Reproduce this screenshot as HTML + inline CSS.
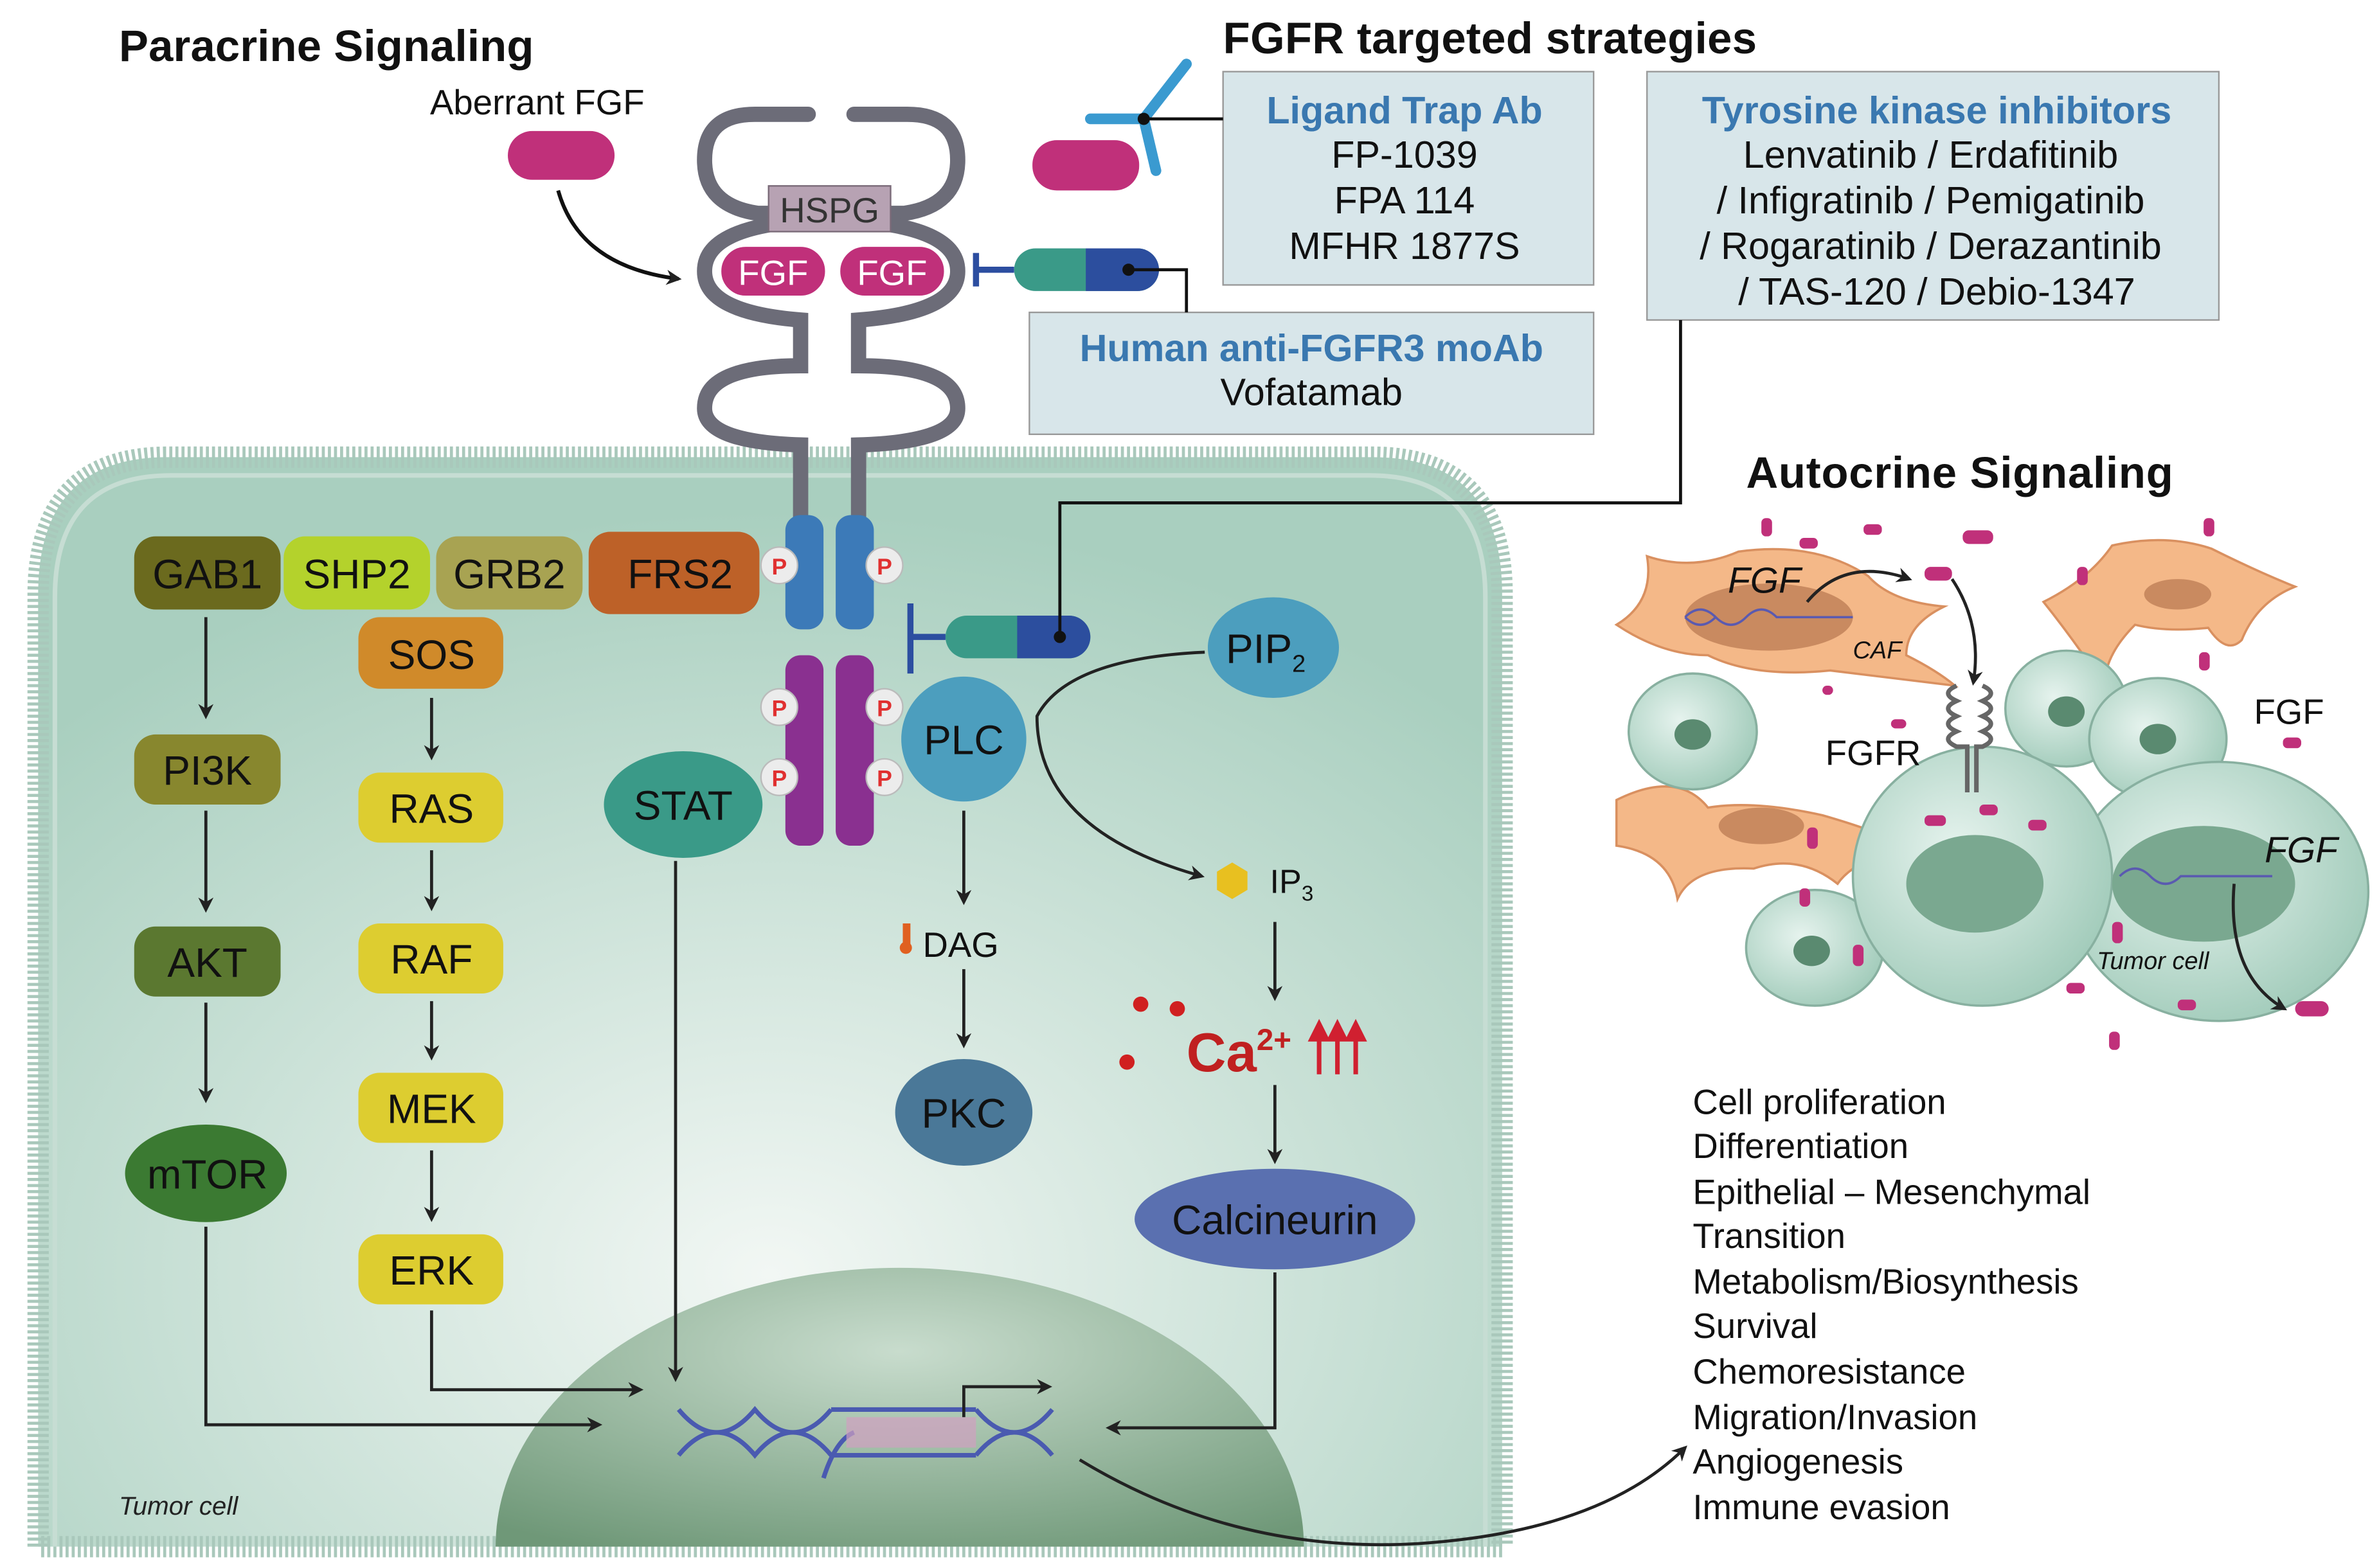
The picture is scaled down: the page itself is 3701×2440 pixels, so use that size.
<!DOCTYPE html>
<html><head><meta charset="utf-8"><style>
html,body{margin:0;padding:0;background:#fff;width:3701px;height:2440px;overflow:hidden}
svg{display:block}
text{font-family:"Liberation Sans",sans-serif}
</style></head><body>
<svg width="3701" height="2440" viewBox="0 0 1560 1029" preserveAspectRatio="none" xmlns="http://www.w3.org/2000/svg">
<defs>
<radialGradient id="cellg" cx="0.5" cy="0.75" r="0.7"><stop offset="0" stop-color="#f2f7f4"/><stop offset="1" stop-color="#a9cfbf"/></radialGradient>
<radialGradient id="nucg" cx="0.5" cy="0.3" r="0.8"><stop offset="0" stop-color="#c8dccd"/><stop offset="1" stop-color="#6f9878"/></radialGradient>
<radialGradient id="tc" cx="0.4" cy="0.4" r="0.7"><stop offset="0" stop-color="#e6f3ee"/><stop offset="1" stop-color="#9cc8b6"/></radialGradient>
<marker id="ah" markerWidth="10" markerHeight="10" refX="8" refY="5" orient="auto" markerUnits="userSpaceOnUse"><path d="M0,0 L10,5 L0,10 L3,5z" fill="#222"/></marker>
</defs>
<rect width="1560" height="1029" fill="#fff"/>
<path d="M25,1015 L25,390 Q25,300 110,300 L900,300 Q985,300 985,390 L985,1015z" fill="url(#cellg)" stroke="#a9c8bb" stroke-width="14" stroke-dasharray="2 2"/>
<path d="M36,1015 L36,392 Q36,312 112,312 L898,312 Q974,312 974,392 L974,1015" fill="none" stroke="#c6ddd3" stroke-width="3"/>
<path d="M325,1015 A265,183 0 0 1 855,1015 Z" fill="url(#nucg)"/>
<text x="78" y="994" font-size="17" font-style="italic" fill="#222">Tumor cell</text>

<g fill="none" stroke="#6c6c78" stroke-width="10" stroke-linecap="round">
<path d="M530,75 L495,75 Q462,75 462,105 Q462,135 497,140 M530,140 L497,140"/>
<path d="M560,75 L595,75 Q628,75 628,105 Q628,135 593,140 M560,140 L593,140"/>
<path d="M525,145 Q462,150 462,178 Q462,205 525,210 L525,240 Q462,240 462,268 Q462,290 525,292 L525,340"/>
<path d="M563,145 Q628,150 628,178 Q628,205 563,210 L563,240 Q628,240 628,268 Q628,290 563,292 L563,340"/>
</g>
<rect x="504" y="122" width="80" height="30" fill="#b7a2b3" stroke="#7a6a78"/>
<text x="544" y="146" font-size="23" text-anchor="middle" fill="#333">HSPG</text>
<rect x="472" y="161" width="70" height="34" rx="17" fill="#c0307a" stroke="#fff" stroke-width="2"/>
<rect x="550" y="161" width="70" height="34" rx="17" fill="#c0307a" stroke="#fff" stroke-width="2"/>
<text x="507" y="187" font-size="23" text-anchor="middle" fill="#fff">FGF</text>
<text x="585" y="187" font-size="23" text-anchor="middle" fill="#fff">FGF</text>
<rect x="515" y="338" width="25" height="75" rx="10" fill="#3c7ab8"/>
<rect x="548" y="338" width="25" height="75" rx="10" fill="#3c7ab8"/>
<rect x="515" y="430" width="25" height="125" rx="10" fill="#8a3090"/>
<rect x="548" y="430" width="25" height="125" rx="10" fill="#8a3090"/>
<g font-size="15" font-weight="bold" fill="#e03030" text-anchor="middle">
<circle cx="511" cy="371" r="12" fill="#ececec" stroke="#bbb"/><text x="511" y="377">P</text>
<circle cx="580" cy="371" r="12" fill="#ececec" stroke="#bbb"/><text x="580" y="377">P</text>
<circle cx="511" cy="464" r="12" fill="#ececec" stroke="#bbb"/><text x="511" y="470">P</text>
<circle cx="580" cy="464" r="12" fill="#ececec" stroke="#bbb"/><text x="580" y="470">P</text>
<circle cx="511" cy="510" r="12" fill="#ececec" stroke="#bbb"/><text x="511" y="516">P</text>
<circle cx="580" cy="510" r="12" fill="#ececec" stroke="#bbb"/><text x="580" y="516">P</text>
</g>

<text x="78" y="40" font-size="29" font-weight="bold" fill="#111" textLength="272">Paracrine Signaling</text>
<text x="802" y="35" font-size="29" font-weight="bold" fill="#111" textLength="350">FGFR targeted strategies</text>
<text x="1145" y="320" font-size="29" font-weight="bold" fill="#111" textLength="280">Autocrine Signaling</text>
<text x="282" y="75" font-size="23" fill="#111">Aberrant FGF</text>
<rect x="333" y="86" width="70" height="32" rx="16" fill="#c0307a"/>
<path d="M366,125 Q380,175 445,183" fill="none" stroke="#111" stroke-width="2.5" marker-end="url(#ah)"/>

<rect x="802" y="47" width="243" height="140" fill="#d8e6ea" stroke="#999"/>
<text x="921" y="81" font-size="25" font-weight="bold" fill="#3a78b0" text-anchor="middle">Ligand Trap Ab</text>
<g font-size="25" fill="#111" text-anchor="middle"><text x="921" y="110">FP-1039</text><text x="921" y="140">FPA 114</text><text x="921" y="170">MFHR 1877S</text></g>
<rect x="1080" y="47" width="375" height="163" fill="#d8e6ea" stroke="#999"/>
<text x="1270" y="81" font-size="25" font-weight="bold" fill="#3a78b0" text-anchor="middle">Tyrosine kinase inhibitors</text>
<g font-size="25" fill="#111" text-anchor="middle"><text x="1266" y="110">Lenvatinib / Erdafitinib</text><text x="1266" y="140">/ Infigratinib / Pemigatinib</text><text x="1266" y="170">/ Rogaratinib / Derazantinib</text><text x="1270" y="200">/ TAS-120 / Debio-1347</text></g>
<rect x="675" y="205" width="370" height="80" fill="#d8e6ea" stroke="#999"/>
<text x="860" y="237" font-size="25" font-weight="bold" fill="#3a78b0" text-anchor="middle">Human anti-FGFR3 moAb</text>
<text x="860" y="266" font-size="25" fill="#111" text-anchor="middle">Vofatamab</text>

<rect x="677" y="92" width="70" height="33" rx="16" fill="#c0307a"/>
<g stroke="#3a9ad0" stroke-width="7" stroke-linecap="round"><path d="M750,78 L778,42 M750,78 L715,78 M750,78 L758,112"/></g>
<circle cx="750" cy="78" r="4" fill="#111"/>
<path d="M750,78 L802,78" stroke="#111" stroke-width="2"/>
<rect x="665" y="163" width="95" height="28" rx="14" fill="#3a9a88"/>
<path d="M712,163 L746,163 A14,14 0 0 1 746,191 L712,191z" fill="#2c4e9e"/>
<circle cx="740" cy="177" r="4" fill="#111"/>
<path d="M740,177 L778,177 L778,205" fill="none" stroke="#111" stroke-width="2"/>
<path d="M665,177 L640,177 M640,166 L640,188" stroke="#2c4ea0" stroke-width="4"/>
<rect x="620" y="404" width="95" height="28" rx="14" fill="#3a9a88"/>
<path d="M667,404 L701,404 A14,14 0 0 1 701,432 L667,432z" fill="#2c4e9e"/>
<circle cx="695" cy="418" r="4" fill="#111"/>
<path d="M695,418 L695,330 L1102,330 L1102,210" fill="none" stroke="#111" stroke-width="2"/>
<path d="M620,418 L597,418 M597,396 L597,442" stroke="#2c4ea0" stroke-width="4"/>

<g font-size="27" fill="#111" text-anchor="middle">
<rect x="88" y="352" width="96" height="48" rx="14" fill="#6b6a1e"/><text x="136" y="386">GAB1</text>
<rect x="186" y="352" width="96" height="48" rx="14" fill="#b4d22c"/><text x="234" y="386">SHP2</text>
<rect x="286" y="352" width="96" height="48" rx="14" fill="#a8a352"/><text x="334" y="386">GRB2</text>
<rect x="386" y="349" width="112" height="54" rx="14" fill="#bd6128"/><text x="446" y="386">FRS2</text>
<rect x="235" y="405" width="95" height="47" rx="14" fill="#d08a2a"/><text x="283" y="439">SOS</text>
<rect x="88" y="482" width="96" height="46" rx="14" fill="#88872e"/><text x="136" y="515">PI3K</text>
<rect x="235" y="507" width="95" height="46" rx="14" fill="#ddcd30"/><text x="283" y="540">RAS</text>
<rect x="88" y="608" width="96" height="46" rx="14" fill="#5b7830"/><text x="136" y="641">AKT</text>
<rect x="235" y="606" width="95" height="46" rx="14" fill="#ddcd30"/><text x="283" y="639">RAF</text>
<ellipse cx="135" cy="770" rx="53" ry="32" fill="#3b7a32"/><text x="136" y="780">mTOR</text>
<rect x="235" y="704" width="95" height="46" rx="14" fill="#ddcd30"/><text x="283" y="737">MEK</text>
<rect x="235" y="810" width="95" height="46" rx="14" fill="#ddcd30"/><text x="283" y="843">ERK</text>
<ellipse cx="448" cy="528" rx="52" ry="35" fill="#3a9a88"/><text x="448" y="538">STAT</text>
<circle cx="632" cy="485" r="41" fill="#4c9ebe"/><text x="632" y="495">PLC</text>
<ellipse cx="835" cy="425" rx="43" ry="33" fill="#4c9ebe"/><text x="830" y="435">PIP<tspan font-size="16" dy="6">2</tspan></text>
<ellipse cx="632" cy="730" rx="45" ry="35" fill="#4a7898"/><text x="632" y="740">PKC</text>
<ellipse cx="836" cy="800" rx="92" ry="33" fill="#5a70b0"/><text x="836" y="810">Calcineurin</text>
<text x="630" y="628" font-size="23">DAG</text>
<text x="847" y="586" font-size="22">IP<tspan font-size="14" dy="5">3</tspan></text>
</g>
<rect x="592" y="606" width="5" height="14" fill="#e06020"/><circle cx="594" cy="622" r="4" fill="#e06020"/>
<polygon points="808,566 818,572 818,584 808,590 798,584 798,572" fill="#e8c020"/>
<text x="778" y="703" font-size="36" font-weight="bold" fill="#c02020">Ca<tspan font-size="20" dy="-14">2+</tspan></text>
<g stroke="#d02030" stroke-width="3" fill="#d02030"><path d="M865,705 L865,678 M877,705 L877,678 M889,705 L889,678"/><path d="M860,682 L865,672 L870,682z M872,682 L877,672 L882,682z M884,682 L889,672 L894,682z"/></g>
<circle cx="748" cy="659" r="5" fill="#d02020"/><circle cx="772" cy="662" r="5" fill="#d02020"/><circle cx="739" cy="697" r="5" fill="#d02020"/>

<g stroke="#222" stroke-width="2" fill="none" marker-end="url(#ah)">
<path d="M135,405 L135,470"/><path d="M135,532 L135,597"/><path d="M135,658 L135,722"/>
<path d="M283,458 L283,497"/><path d="M283,558 L283,596"/><path d="M283,657 L283,694"/><path d="M283,755 L283,800"/>
<path d="M632,532 L632,592"/><path d="M632,636 L632,686"/>
<path d="M836,605 L836,655"/><path d="M836,712 L836,762"/>
<path d="M443,565 L443,905"/>
<path d="M135,805 L135,935 L393,935"/>
<path d="M283,860 L283,912 L420,912"/>
<path d="M836,835 L836,937 L727,937"/>
<path d="M790,428 Q700,432 680,470 Q680,545 788,575"/>
<path d="M708,958 Q810,1020 930,1013 Q1050,1005 1105,950"/>
</g>
<g stroke="#4a5ab0" stroke-width="3" fill="none">
<path d="M445,925 Q470,955 495,925 Q520,955 545,925 M445,955 Q470,925 495,955 Q520,925 545,955"/>
<path d="M640,925 Q665,955 690,925 M640,955 Q665,925 690,955"/>
<path d="M545,925 L640,925 M545,955 L640,955 M540,970 Q548,945 560,940"/>
</g>
<rect x="555" y="930" width="85" height="20" fill="#d0a0c0" opacity="0.7"/>
<path d="M632,930 L632,910 L688,910" fill="none" stroke="#222" stroke-width="2" marker-end="url(#ah)"/>

<g font-size="23" fill="#111">
<text x="1110" y="731">Cell proliferation</text><text x="1110" y="760">Differentiation</text><text x="1110" y="790">Epithelial – Mesenchymal</text><text x="1110" y="819">Transition</text><text x="1110" y="849">Metabolism/Biosynthesis</text><text x="1110" y="878">Survival</text><text x="1110" y="908">Chemoresistance</text><text x="1110" y="938">Migration/Invasion</text><text x="1110" y="967">Angiogenesis</text><text x="1110" y="997">Immune evasion</text>
</g>

<g stroke="#d99060" stroke-width="1.5" fill="#f4b888">
<path d="M1060,410 Q1085,395 1080,365 Q1110,375 1140,362 Q1190,355 1225,378 Q1240,395 1275,398 Q1250,410 1250,430 Q1270,440 1282,450 Q1240,445 1200,440 Q1150,445 1120,430 Q1090,430 1060,410z"/>
<path d="M1340,395 Q1370,380 1385,358 Q1420,350 1450,360 Q1480,375 1505,385 Q1480,395 1470,420 Q1460,430 1448,412 Q1420,415 1400,410 Q1380,430 1380,450 Q1360,420 1340,395z"/>
<path d="M1060,525 Q1100,505 1120,530 Q1150,525 1195,535 Q1230,545 1250,555 Q1215,565 1205,580 Q1180,560 1150,570 Q1110,568 1100,590 Q1095,560 1060,555z"/>
</g>
<ellipse cx="1160" cy="405" rx="55" ry="22" fill="#c98a60"/>
<ellipse cx="1428" cy="390" rx="22" ry="10" fill="#c98a60"/>
<ellipse cx="1155" cy="542" rx="28" ry="12" fill="#c98a60"/>
<g stroke="#88b0a0" stroke-width="1.5" fill="url(#tc)">
<ellipse cx="1110" cy="480" rx="42" ry="38"/>
<ellipse cx="1190" cy="622" rx="45" ry="38"/>
<ellipse cx="1355" cy="465" rx="40" ry="38"/>
<ellipse cx="1415" cy="485" rx="45" ry="40"/>
<ellipse cx="1455" cy="585" rx="98" ry="85"/>
<ellipse cx="1300" cy="575" rx="85" ry="85"/>
</g>
<ellipse cx="1110" cy="482" rx="12" ry="10" fill="#5a8a70"/>
<ellipse cx="1188" cy="624" rx="12" ry="10" fill="#5a8a70"/>
<ellipse cx="1355" cy="467" rx="12" ry="10" fill="#5a8a70"/>
<ellipse cx="1415" cy="485" rx="12" ry="10" fill="#5a8a70"/>
<ellipse cx="1295" cy="580" rx="45" ry="32" fill="#7aa890"/>
<ellipse cx="1445" cy="580" rx="60" ry="38" fill="#7aa890"/>
<g stroke="#666" stroke-width="3" fill="none"><path d="M1283,450 Q1272,455 1283,460 Q1272,465 1283,470 Q1272,475 1283,480 Q1272,485 1283,490 L1290,490 L1290,520 M1300,450 Q1311,455 1300,460 Q1311,465 1300,470 Q1311,475 1300,480 Q1311,485 1300,490 L1296,490 L1296,520"/></g>
<text x="1133" y="389" font-size="24" font-style="italic" fill="#111">FGF</text>
<text x="1215" y="432" font-size="16" font-style="italic" fill="#111">CAF</text>
<text x="1197" y="502" font-size="23" fill="#111">FGFR</text>
<text x="1478" y="475" font-size="23" fill="#111">FGF</text>
<text x="1485" y="566" font-size="24" font-style="italic" fill="#111">FGF</text>
<text x="1375" y="636" font-size="16" font-style="italic" fill="#111">Tumor cell</text>
<g stroke="#5a5ab0" stroke-width="1.5" fill="none"><path d="M1105,405 Q1115,395 1125,405 Q1135,415 1145,405 Q1155,395 1165,405 L1215,405 M1105,405 Q1115,415 1125,405"/><path d="M1390,575 Q1400,565 1410,575 Q1420,585 1430,575 L1490,575"/></g>
<g stroke="#222" stroke-width="2" fill="none" marker-end="url(#ah)">
<path d="M1185,395 Q1210,365 1252,380"/><path d="M1280,380 Q1300,410 1294,448"/><path d="M1465,580 Q1460,640 1498,662"/>
</g>
<g fill="#c0307a">
<rect x="1155" y="340" width="7" height="12" rx="3"/><rect x="1180" y="353" width="12" height="7" rx="3"/><rect x="1222" y="344" width="12" height="7" rx="3"/><rect x="1287" y="348" width="20" height="9" rx="4"/><rect x="1262" y="372" width="18" height="9" rx="4"/><rect x="1445" y="340" width="7" height="12" rx="3"/><rect x="1362" y="372" width="7" height="12" rx="3"/><rect x="1442" y="428" width="7" height="12" rx="3"/><rect x="1497" y="484" width="12" height="7" rx="3"/><rect x="1195" y="450" width="7" height="6" rx="3"/><rect x="1240" y="472" width="10" height="6" rx="3"/><rect x="1262" y="535" width="14" height="7" rx="3"/><rect x="1298" y="528" width="12" height="7" rx="3"/><rect x="1330" y="538" width="12" height="7" rx="3"/><rect x="1185" y="543" width="7" height="14" rx="3"/><rect x="1215" y="620" width="7" height="14" rx="3"/><rect x="1385" y="605" width="7" height="14" rx="3"/><rect x="1355" y="645" width="12" height="7" rx="3"/><rect x="1428" y="656" width="12" height="7" rx="3"/><rect x="1383" y="677" width="7" height="12" rx="3"/><rect x="1505" y="657" width="22" height="10" rx="5"/><rect x="1180" y="583" width="7" height="12" rx="3"/>
</g>
</svg>
</body></html>
